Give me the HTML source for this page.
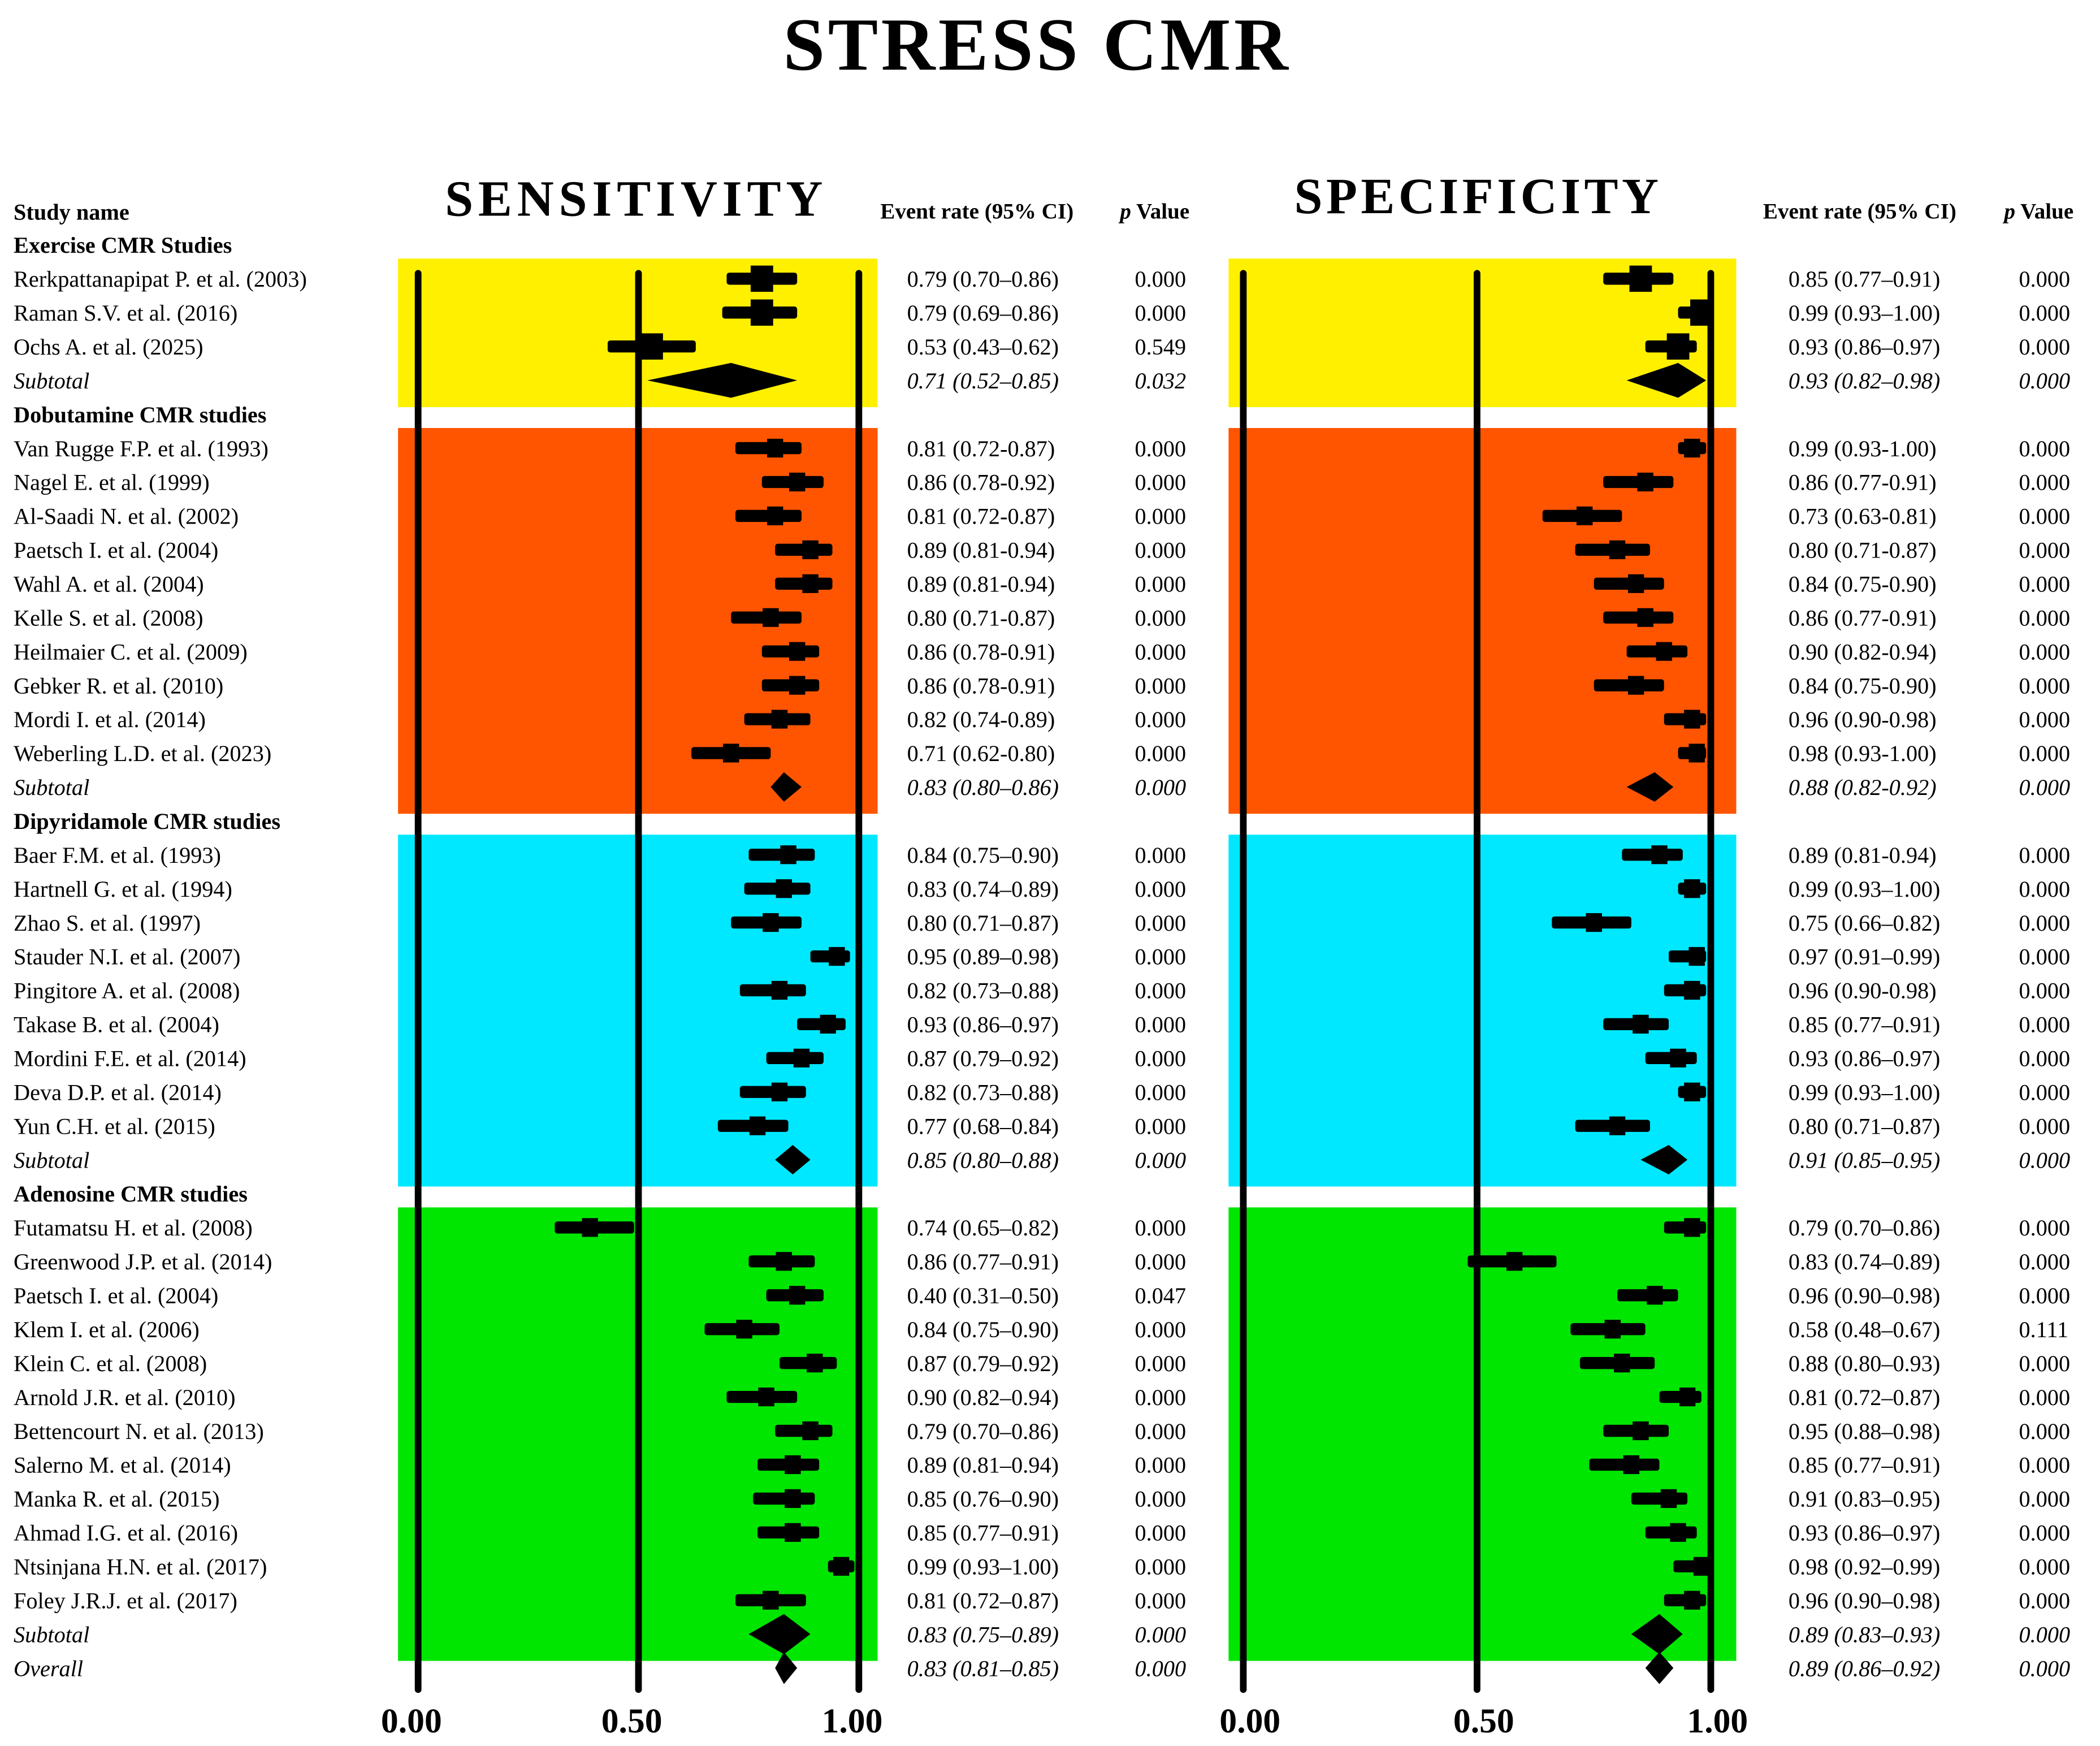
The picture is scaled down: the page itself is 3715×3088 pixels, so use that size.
<!DOCTYPE html>
<html><head><meta charset="utf-8"><style>
html,body{margin:0;padding:0;background:#fff;}
svg{display:block;}
text{font-family:"Liberation Serif",serif;fill:#000;}
</style></head><body>
<svg id="chart" xmlns="http://www.w3.org/2000/svg" width="3715" height="3088" viewBox="0 0 1567.4 1303.1">
<rect x="0" y="0" width="1568" height="1304" fill="#fff"/>
<text x="773" y="52" font-size="56" font-weight="bold" text-anchor="middle" textLength="377">STRESS CMR</text>
<text x="473" y="161" font-size="38" font-weight="bold" text-anchor="middle" textLength="282">SENSITIVITY</text>
<text x="1102" y="159" font-size="38" font-weight="bold" text-anchor="middle" textLength="272">SPECIFICITY</text>
<text x="10" y="164" font-size="17" font-weight="bold">Study name</text>
<text x="657" y="163" font-size="16.5" font-weight="bold">Event rate (95% CI)</text>
<text x="836" y="163" font-size="16.5" font-weight="bold"><tspan font-style="italic">p</tspan> Value</text>
<text x="1316" y="163" font-size="16.5" font-weight="bold">Event rate (95% CI)</text>
<text x="1496" y="163" font-size="16.5" font-weight="bold"><tspan font-style="italic">p</tspan> Value</text>
<g id="bands"></g><g id="grid"></g><g id="marks"></g><g id="labels"></g>
</svg>
<script>
// ---- data ----
const rowLabels = ["Rerkpattanapipat P. et al. (2003)","Raman S.V. et al. (2016)","Ochs A. et al. (2025)","Subtotal",
"Van Rugge F.P. et al. (1993)","Nagel E. et al. (1999)","Al-Saadi N. et al. (2002)","Paetsch I. et al. (2004)","Wahl A. et al. (2004)","Kelle S. et al. (2008)","Heilmaier C. et al. (2009)","Gebker R. et al. (2010)","Mordi I. et al. (2014)","Weberling L.D. et al. (2023)","Subtotal",
"Baer F.M. et al. (1993)","Hartnell G. et al. (1994)","Zhao S. et al. (1997)","Stauder N.I. et al. (2007)","Pingitore A. et al. (2008)","Takase B. et al. (2004)","Mordini F.E. et al. (2014)","Deva D.P. et al. (2014)","Yun C.H. et al. (2015)","Subtotal",
"Futamatsu H. et al. (2008)","Greenwood J.P. et al. (2014)","Paetsch I. et al. (2004)","Klem I. et al. (2006)","Klein C. et al. (2008)","Arnold J.R. et al. (2010)","Bettencourt N. et al. (2013)","Salerno M. et al. (2014)","Manka R. et al. (2015)","Ahmad I.G. et al. (2016)","Ntsinjana H.N. et al. (2017)","Foley J.R.J. et al. (2017)","Subtotal","Overall"];
const rowKind = ["s","s","s","d","s","s","s","s","s","s","s","s","s","s","d","s","s","s","s","s","s","s","s","s","d","s","s","s","s","s","s","s","s","s","s","s","s","d","o"];
const rowSlot = [0,1,2,3,5,6,7,8,9,10,11,12,13,14,15,17,18,19,20,21,22,23,24,25,26,28,29,30,31,32,33,34,35,36,37,38,39,40,41];
const groupHeaders = ["Exercise CMR Studies","Dobutamine CMR studies","Dipyridamole CMR studies","Adenosine CMR studies"];
const groupHeaderSlot = [-1,4,16,27];
const weights = [1.4,1.4,1.4,0,1,1,1,1,1,1,1,1,1,1,0,1,1,1,1,1,1,1,1,1,0,1,1,1,1,1,1,1,1,1,1,1,1,0,0];
const diamondH = [0,0,0,26,0,0,0,0,0,0,0,0,0,0,22,0,0,0,0,0,0,0,0,0,22,0,0,0,0,0,0,0,0,0,0,0,0,30,24];

const sensVal = [0.78,0.78,0.53,0.71, 0.81,0.86,0.81,0.89,0.89,0.80,0.86,0.86,0.82,0.71,0.83, 0.84,0.83,0.80,0.95,0.82,0.93,0.87,0.82,0.77,0.85, 0.39,0.83,0.86,0.74,0.90,0.79,0.89,0.85,0.85,0.85,0.96,0.80,0.83,0.83];
const sensLo  = [0.70,0.69,0.43,0.52, 0.72,0.78,0.72,0.81,0.81,0.71,0.78,0.78,0.74,0.62,0.80, 0.75,0.74,0.71,0.89,0.73,0.86,0.79,0.73,0.68,0.81, 0.31,0.75,0.79,0.65,0.82,0.70,0.81,0.77,0.76,0.77,0.93,0.72,0.75,0.81];
const sensHi  = [0.86,0.86,0.63,0.86, 0.87,0.92,0.87,0.94,0.94,0.87,0.91,0.91,0.89,0.80,0.87, 0.90,0.89,0.87,0.98,0.88,0.97,0.92,0.88,0.84,0.89, 0.49,0.90,0.92,0.82,0.95,0.86,0.94,0.91,0.90,0.91,0.99,0.88,0.89,0.86];
const specVal = [0.85,0.98,0.93,0.93, 0.96,0.86,0.73,0.80,0.84,0.86,0.90,0.84,0.96,0.97,0.88, 0.89,0.96,0.75,0.97,0.96,0.85,0.93,0.96,0.80,0.91, 0.96,0.58,0.88,0.79,0.81,0.95,0.85,0.83,0.91,0.93,0.98,0.96,0.89,0.89];
const specLo  = [0.77,0.93,0.86,0.82, 0.93,0.77,0.64,0.71,0.75,0.77,0.82,0.75,0.90,0.93,0.82, 0.81,0.93,0.66,0.91,0.90,0.77,0.86,0.93,0.71,0.85, 0.90,0.48,0.80,0.70,0.72,0.89,0.77,0.74,0.83,0.86,0.92,0.90,0.83,0.86];
const specHi  = [0.92,1.00,0.97,0.99, 0.99,0.92,0.81,0.87,0.90,0.92,0.95,0.90,0.99,0.99,0.92, 0.94,0.99,0.83,0.99,0.99,0.91,0.97,0.99,0.87,0.95, 0.99,0.67,0.93,0.86,0.88,0.98,0.91,0.89,0.95,0.97,1.00,0.99,0.94,0.92];

const sensText = ["0.79 (0.70–0.86)","0.79 (0.69–0.86)","0.53 (0.43–0.62)","0.71 (0.52–0.85)","0.81 (0.72-0.87)","0.86 (0.78-0.92)","0.81 (0.72-0.87)","0.89 (0.81-0.94)","0.89 (0.81-0.94)","0.80 (0.71-0.87)","0.86 (0.78-0.91)","0.86 (0.78-0.91)","0.82 (0.74-0.89)","0.71 (0.62-0.80)","0.83 (0.80–0.86)","0.84 (0.75–0.90)","0.83 (0.74–0.89)","0.80 (0.71–0.87)","0.95 (0.89–0.98)","0.82 (0.73–0.88)","0.93 (0.86–0.97)","0.87 (0.79–0.92)","0.82 (0.73–0.88)","0.77 (0.68–0.84)","0.85 (0.80–0.88)","0.74 (0.65–0.82)","0.86 (0.77–0.91)","0.40 (0.31–0.50)","0.84 (0.75–0.90)","0.87 (0.79–0.92)","0.90 (0.82–0.94)","0.79 (0.70–0.86)","0.89 (0.81–0.94)","0.85 (0.76–0.90)","0.85 (0.77–0.91)","0.99 (0.93–1.00)","0.81 (0.72–0.87)","0.83 (0.75–0.89)","0.83 (0.81–0.85)"];
const sensP = ["0.000","0.000","0.549","0.032","0.000","0.000","0.000","0.000","0.000","0.000","0.000","0.000","0.000","0.000","0.000","0.000","0.000","0.000","0.000","0.000","0.000","0.000","0.000","0.000","0.000","0.000","0.000","0.047","0.000","0.000","0.000","0.000","0.000","0.000","0.000","0.000","0.000","0.000","0.000"];
const specText = ["0.85 (0.77–0.91)","0.99 (0.93–1.00)","0.93 (0.86–0.97)","0.93 (0.82–0.98)","0.99 (0.93-1.00)","0.86 (0.77-0.91)","0.73 (0.63-0.81)","0.80 (0.71-0.87)","0.84 (0.75-0.90)","0.86 (0.77-0.91)","0.90 (0.82-0.94)","0.84 (0.75-0.90)","0.96 (0.90-0.98)","0.98 (0.93-1.00)","0.88 (0.82-0.92)","0.89 (0.81-0.94)","0.99 (0.93–1.00)","0.75 (0.66–0.82)","0.97 (0.91–0.99)","0.96 (0.90-0.98)","0.85 (0.77–0.91)","0.93 (0.86–0.97)","0.99 (0.93–1.00)","0.80 (0.71–0.87)","0.91 (0.85–0.95)","0.79 (0.70–0.86)","0.83 (0.74–0.89)","0.96 (0.90–0.98)","0.58 (0.48–0.67)","0.88 (0.80–0.93)","0.81 (0.72–0.87)","0.95 (0.88–0.98)","0.85 (0.77–0.91)","0.91 (0.83–0.95)","0.93 (0.86–0.97)","0.98 (0.92–0.99)","0.96 (0.90–0.98)","0.89 (0.83–0.93)","0.89 (0.86–0.92)"];
const specP = ["0.000","0.000","0.000","0.000","0.000","0.000","0.000","0.000","0.000","0.000","0.000","0.000","0.000","0.000","0.000","0.000","0.000","0.000","0.000","0.000","0.000","0.000","0.000","0.000","0.000","0.000","0.000","0.000","0.111","0.000","0.000","0.000","0.000","0.000","0.000","0.000","0.000","0.000","0.000"];
const tickValues = [0, 0.5, 1];
const tickLabels = ["0.00","0.50","1.00"];
const bandColors = ["#FFF000","#FF5500","#00E8FF","#00E600"];
const bandSlots = [[0,3],[5,15],[17,26],[28,40]];

// ---- layout ----
const NS = "http://www.w3.org/2000/svg";
const rowY = s => 208 + s * 25.29;
const sensX = v => 312 + v * 329;
const specX = v => 928 + v * 349;
function mk(tag, attrs, parent){ const e=document.createElementNS(NS,tag); for(const k in attrs) e.setAttribute(k,attrs[k]); parent.appendChild(e); return e; }
const gB=document.getElementById('bands'), gG=document.getElementById('grid'), gM=document.getElementById('marks'), gL=document.getElementById('labels');

bandSlots.forEach((b,i)=>{
  const y0 = rowY(b[0]) - 15, y1 = rowY(b[1]) + 20;
  const r1 = mk('rect',{x:297,y:y0,width:358,height:y1-y0,fill:bandColors[i]},gB);
  
  
  const r2 = mk('rect',{x:917,y:y0,width:379,height:y1-y0,fill:bandColors[i]},gB);
  
  
});

tickValues.forEach((t,i)=>{
  const l1 = mk('line',{x1:sensX(t),x2:sensX(t),y1:204,y2:1261,stroke:'#000','stroke-width':5,'stroke-linecap':'round'},gG);
  
  
  const l2 = mk('line',{x1:specX(t),x2:specX(t),y1:204,y2:1261,stroke:'#000','stroke-width':5,'stroke-linecap':'round'},gG);
  
  
  const t1 = mk('text',{x:sensX(t)-5,y:1293,'font-size':26,'font-weight':'bold','text-anchor':'middle'},gL);
  t1.textContent = tickLabels[i];
  
  
  const t2 = mk('text',{x:specX(t)+5,y:1293,'font-size':26,'font-weight':'bold','text-anchor':'middle'},gL);
  t2.textContent = tickLabels[i];
  
  
});

function drawMark(xf, v, lo, hi, i, side){
  const y = rowY(rowSlot[i]);
  if(rowKind[i]==='s'){
    const w = weights[i];
    const ci = mk('rect',{x:xf(lo),y:y-4.5,width:xf(hi)-xf(lo),height:9,rx:2,fill:'#000'},gM);
    
    
    const bw = 12*w, bh = 14*w;
    const sq = mk('rect',{x:xf(v)-bw/2,y:y-bh/2,width:bw,height:bh,fill:'#000'},gM);
    
    
  } else {
    const h = diamondH[i]/2;
    const d = mk('polygon',{points:`${xf(lo)},${y} ${xf(v)},${y-h} ${xf(hi)},${y} ${xf(v)},${y+h}`,fill:'#000'},gM);
    
    
  }
}

rowLabels.forEach((lab,i)=>{
  const y = rowY(rowSlot[i]);
  const it = rowKind[i]!=='s';
  drawMark(sensX, sensVal[i], sensLo[i], sensHi[i], i, 'sensitivity');
  drawMark(specX, specVal[i], specLo[i], specHi[i], i, 'specificity');
  const cols = [[10,lab,'study-name'],[677,sensText[i],'sensitivity-event-rate'],[847,sensP[i],'sensitivity-p-value'],[1335,specText[i],'specificity-event-rate'],[1507,specP[i],'specificity-p-value']];
  cols.forEach(c=>{
    const t = mk('text',{x:c[0],y:y+6,'font-size':17},gL);
    if(it) t.setAttribute('font-style','italic');
    t.textContent = c[1];
    
    
  });
});

groupHeaders.forEach((g,i)=>{
  const t = mk('text',{x:10,y:rowY(groupHeaderSlot[i])+6,'font-size':17,'font-weight':'bold'},gL);
  t.textContent = g;
  
  
});
</script>
</body></html>
